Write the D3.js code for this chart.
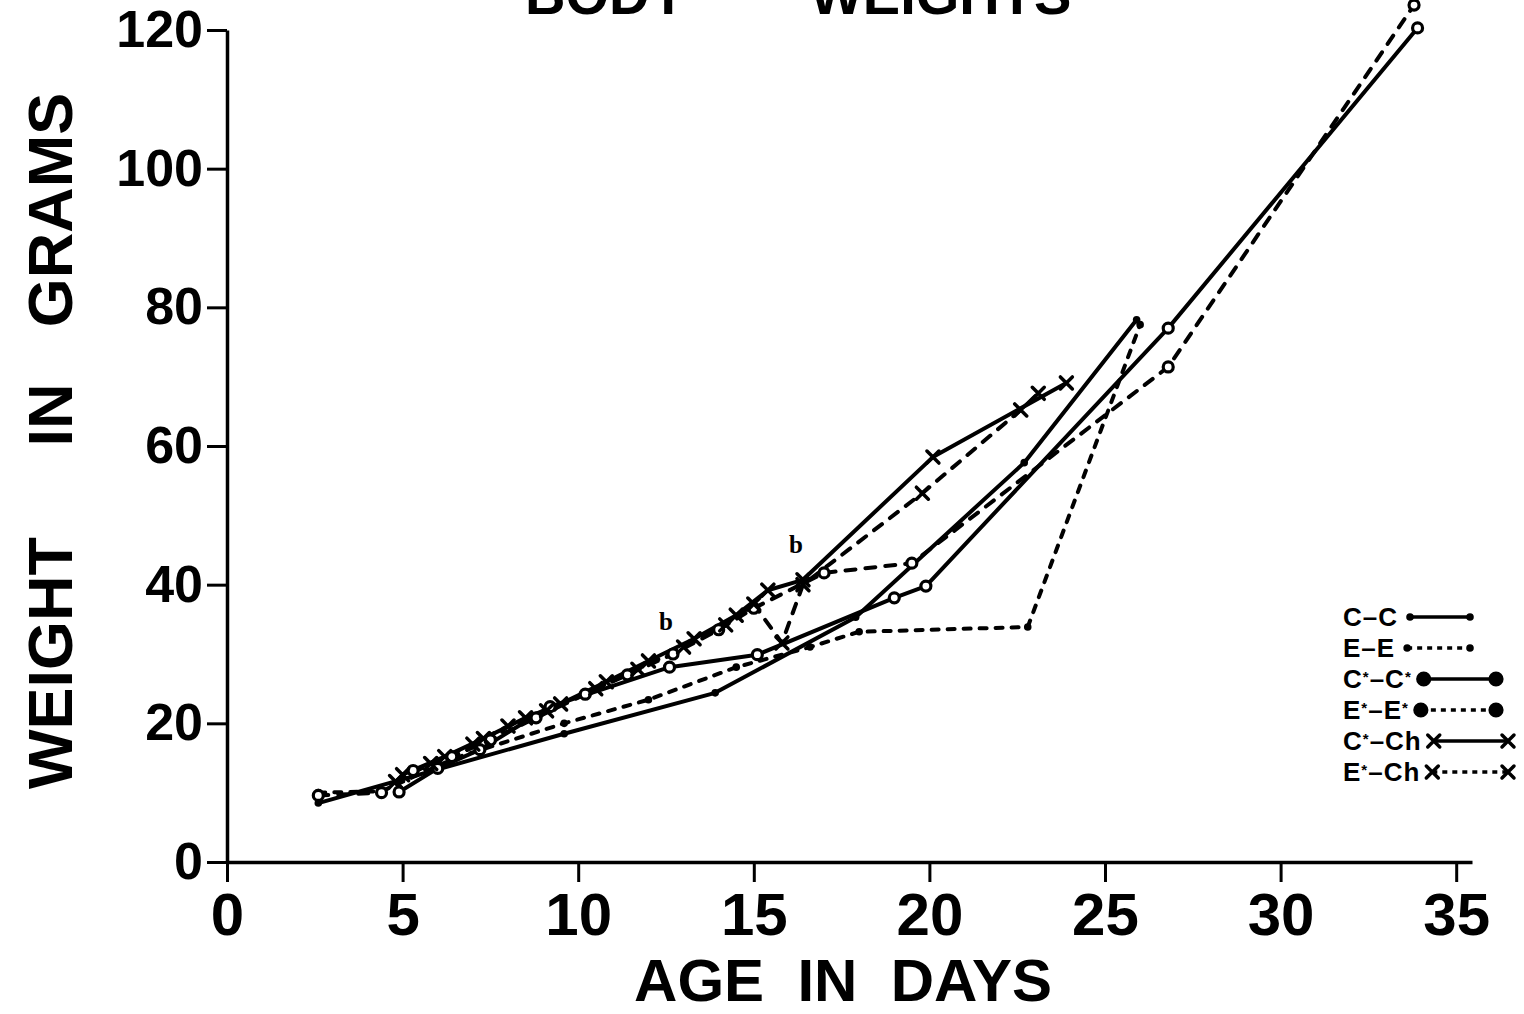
<!DOCTYPE html>
<html>
<head>
<meta charset="utf-8">
<script src="https://cdn.jsdelivr.net/npm/d3@7"></script>
<style>
  body { margin: 0; background: #fff; }
  svg { display: block; }
  text { font-family: "Liberation Sans", Arial, Helvetica, sans-serif; font-weight: bold; fill: #000; }
</style>
</head>
<body>
<svg width="1524" height="1014"></svg>
<script>
// tick values
const xTicks = [0, 5, 10, 15, 20, 25, 30, 35];
const yTicks = [0, 20, 40, 60, 80, 100, 120];

// C-C  (solid, small dots)
const ccDays = [2.6, 9.6, 13.9, 17.9, 22.7, 25.9];
const ccWeights = [8.5, 18.5, 24.4, 35.3, 57.6, 78.2];

// E-E  (short dashes, small dots)
const eeDays = [2.6, 4.4, 6.5, 9.6, 12.0, 14.5, 16.6, 18.0, 22.8, 26.0];
const eeWeights = [10.0, 10.2, 15.0, 20.0, 23.4, 28.1, 31.0, 33.2, 33.9, 77.5];

// C*-C*  (solid, large circles)
const csDays = [4.9, 6.0, 7.2, 9.2, 12.6, 15.1, 19.0, 19.9, 26.8, 33.9];
const csWeights = [10.1, 13.5, 16.2, 22.4, 28.1, 29.9, 38.1, 39.8, 77.0, 120.3];

// E*-E*  (dashes, large circles)
const esDays = [2.6, 4.4, 5.3, 6.4, 7.5, 8.8, 10.2, 11.4, 12.7, 14.0, 15.0, 17.0, 19.5, 26.8, 33.8];
const esWeights = [9.6, 10.0, 13.2, 15.2, 17.6, 20.8, 24.2, 27.0, 30.0, 33.5, 36.6, 41.7, 43.1, 71.4, 123.6];

// C*-Ch  (solid, crosses)
const cchDays = [5.0, 6.2, 7.3, 8.5, 9.5, 10.8, 12.0, 13.3, 14.5, 15.4, 16.4, 20.1, 23.9];
const cchWeights = [12.6, 15.2, 17.8, 20.8, 22.8, 26.0, 29.0, 32.2, 35.6, 39.2, 40.7, 58.4, 69.1];

// E*-Ch  (dashes, crosses)
const echDays = [4.8, 5.8, 7.0, 8.0, 9.1, 10.5, 11.7, 13.0, 14.2, 15.0, 15.8, 16.4, 19.8, 22.6, 23.1];
const echWeights = [11.6, 14.2, 17.0, 19.6, 21.8, 25.0, 27.8, 31.0, 34.2, 37.2, 31.6, 40.0, 53.2, 65.2, 67.6];

// annotation letters (day, grams)
const noteDays = [12.5, 16.2];
const noteWeights = [33.5, 44.5];

const svg = d3.select('svg');

const x = d3.scaleLinear().domain([0, 35.45]).range([227, 1472]);
const y = d3.scaleLinear().domain([0, 120]).range([862, 30]);

const font = '"Liberation Sans", Arial, Helvetica, sans-serif';

// axes
const xAxisGroup = svg.append('g').attr('transform', 'translate(0,862)');
xAxisGroup.call(d3.axisBottom(x).tickValues(xTicks).tickSize(20).tickSizeOuter(0).tickPadding(10));
xAxisGroup.select('.domain').attr('stroke-width', 3.5);
xAxisGroup.selectAll('.tick line').attr('stroke-width', 3);
xAxisGroup.selectAll('.tick text')
  .attr('font-size', 60).attr('font-family', font).attr('font-weight', 'bold');

const yAxisGroup = svg.append('g').attr('transform', 'translate(227,0)');
yAxisGroup.call(d3.axisLeft(y).tickValues(yTicks).tickSize(20).tickSizeOuter(0).tickPadding(4));
yAxisGroup.select('.domain').attr('stroke-width', 3.5);
yAxisGroup.selectAll('.tick line').attr('stroke-width', 3);
yAxisGroup.selectAll('.tick text')
  .attr('font-size', 52).attr('font-family', font).attr('font-weight', 'bold');

// titles (top title is cut by the page edge, as in the scan)
svg.append('text').attr('x', 525).attr('y', 14).attr('font-size', 56).text('BODY');
svg.append('text').attr('x', 810).attr('y', 14).attr('font-size', 56).text('WEIGHTS');

svg.append('text')
  .attr('x', 843).attr('y', 1001)
  .attr('text-anchor', 'middle')
  .attr('font-size', 60)
  .style('white-space', 'pre')
  .text('AGE  IN  DAYS');

const yWords = [['WEIGHT', 663], ['IN', 415], ['GRAMS', 210]];
yWords.forEach(([word, cy]) => {
  svg.append('text')
    .attr('transform', `translate(72,${cy}) rotate(-90)`)
    .attr('text-anchor', 'middle')
    .attr('font-size', 63)
    .text(word);
});

// series
const series = [
  { name: 'C–C', days: ccDays, w: ccWeights, dash: null, marker: 'dot' },
  { name: 'E–E', days: eeDays, w: eeWeights, dash: '7,9', marker: 'dot' },
  { name: 'C*–C*', days: csDays, w: csWeights, dash: null, marker: 'circle' },
  { name: 'E*–E*', days: esDays, w: esWeights, dash: '10,10', marker: 'circle' },
  { name: 'C*–Ch', days: cchDays, w: cchWeights, dash: null, marker: 'cross' },
  { name: 'E*–Ch', days: echDays, w: echWeights, dash: '10,10', marker: 'cross' }
];

const line = d3.line().x(d => d[0]).y(d => d[1]);

function drawMarker(g, kind, px, py, filled) {
  if (kind === 'dot') {
    g.append('circle').attr('cx', px).attr('cy', py).attr('r', 3.8).attr('fill', '#000');
  } else if (kind === 'circle') {
    g.append('circle').attr('cx', px).attr('cy', py).attr('r', filled ? 6 : 5)
      .attr('fill', filled ? '#000' : '#fff').attr('stroke', '#000').attr('stroke-width', 3.2);
  } else {
    const s = 6;
    g.append('path')
      .attr('d', `M${px - s},${py - s}L${px + s},${py + s}M${px - s},${py + s}L${px + s},${py - s}`)
      .attr('stroke', '#000').attr('stroke-width', 3.5).attr('stroke-linecap', 'round');
  }
}

const plot = svg.append('g');
series.forEach(s => {
  const pts = s.days.map((d, i) => [x(d), y(s.w[i])]);
  plot.append('path')
    .attr('d', line(pts))
    .attr('fill', 'none')
    .attr('stroke', '#000')
    .attr('stroke-width', 4)
    .attr('stroke-linejoin', 'round')
    .attr('stroke-linecap', 'round')
    .attr('stroke-dasharray', s.dash);
});
series.forEach(s => {
  s.days.forEach((d, i) => drawMarker(plot, s.marker, x(d), y(s.w[i])));
});

// "b" notes
noteDays.forEach((d, i) => {
  svg.append('text')
    .attr('x', x(d)).attr('y', y(noteWeights[i]))
    .attr('text-anchor', 'middle')
    .attr('font-size', 25)
    .style('font-family', '"Liberation Serif", "DejaVu Serif", serif')
    .text('b');
});

// legend
const legendY = [617, 648, 679, 710, 741, 772];
const legend = svg.append('g');
series.forEach((s, i) => {
  const ly = legendY[i];
  const t = legend.append('text').attr('x', 1343).attr('y', ly + 9).attr('font-size', 26)
    .attr('letter-spacing', 1);
  s.name.split('*').forEach((part, j, arr) => {
    t.append('tspan').text(part);
    if (j < arr.length - 1) {
      t.append('tspan').attr('font-size', 15).attr('baseline-shift', '40%').text('*');
    }
  });
  const bbox = t.node().getBBox();
  const x1 = bbox.x + bbox.width + 12;
  const x2 = 1470 + (s.marker === 'dot' ? 0 : (s.marker === 'circle' ? 26 : 38));
  legend.append('line')
    .attr('x1', x1).attr('x2', x2).attr('y1', ly).attr('y2', ly)
    .attr('stroke', '#000').attr('stroke-width', 3.5)
    .attr('stroke-dasharray', s.dash ? '5,5' : null);
  drawMarker(legend, s.marker, x1, ly, true);
  drawMarker(legend, s.marker, x2, ly, true);
});
</script>
</body>
</html>
